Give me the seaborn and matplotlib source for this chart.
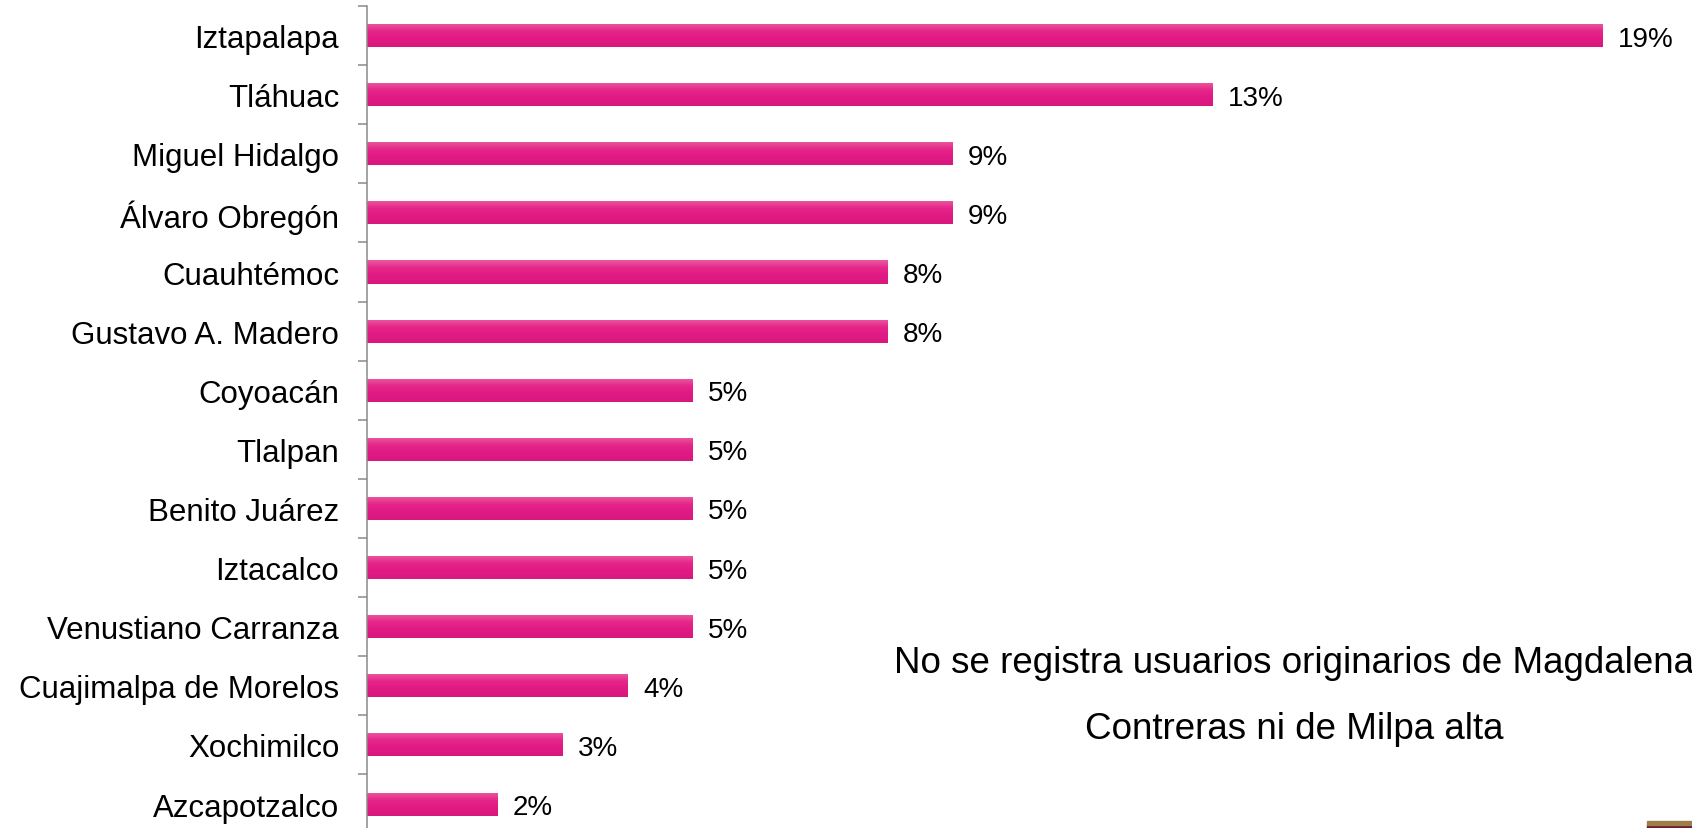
import numpy as np
import pandas as pd
import matplotlib
matplotlib.use("Agg")
import matplotlib.pyplot as plt
from matplotlib.colors import LinearSegmentedColormap
from matplotlib.ticker import FixedLocator
import seaborn as sns

alcaldias = [
    "Iztapalapa", "Tláhuac", "Miguel Hidalgo", "Álvaro Obregón", "Cuauhtémoc",
    "Gustavo A. Madero", "Coyoacán", "Tlalpan", "Benito Juárez", "Iztacalco",
    "Venustiano Carranza", "Cuajimalpa de Morelos", "Xochimilco", "Azcapotzalco",
]
porcentajes = [19, 13, 9, 9, 8, 8, 5, 5, 5, 5, 5, 4, 3, 2]

nota = ["No se registra usuarios originarios de Magdalena",
        "Contreras ni de Milpa alta"]

df = pd.DataFrame({"alcaldia": alcaldias, "pct": porcentajes})

sns.set_style("white")
plt.rcParams["font.family"] = ["Liberation Sans", "DejaVu Sans"]
plt.rcParams["text.color"] = "#000000"

W, H = 1692, 829
fig = plt.figure(figsize=(W / 100, H / 100), dpi=100)
ax = fig.add_axes([367 / W, -5.6 / H, 1300 / W, 827.6 / H])

rosa = "#e3228a"
sns.barplot(data=df, x="pct", y="alcaldia", orient="h", color=rosa,
            width=0.39, saturation=1, ax=ax)

# degradado vertical en cada barra (más claro arriba)
grad = LinearSegmentedColormap.from_list(
    "rosa", ["#ea5aa0", "#e62589", "#e01a84", "#d8187e"])
for p in ax.patches:
    x0, y0 = p.get_x(), p.get_y()
    w, h = p.get_width(), p.get_height()
    im = ax.imshow(np.linspace(0, 1, 50).reshape(-1, 1), cmap=grad,
                   aspect="auto", extent=[x0, x0 + w, y0 + h, y0],
                   origin="upper", zorder=p.get_zorder() + 0.1)
    im.set_clip_path(p)

ax.set_xlim(0, 20)
ax.set_ylim(len(alcaldias) - 0.5, -0.5)

etiquetas = ax.bar_label(ax.containers[0], labels=[f"{v}%" for v in porcentajes],
                         padding=11.5, fontsize=20, color="#000000")
for t in etiquetas:
    t.set_y(t.get_position()[1])
    t.set_va("center_baseline")

for s in ["top", "right", "bottom"]:
    ax.spines[s].set_visible(False)
ax.spines["left"].set_color("#8a8a8a")
ax.spines["left"].set_linewidth(1.1)
ax.set_xticks([])
ax.set_xlabel("")
ax.set_ylabel("")
ax.tick_params(axis="y", which="major", left=False, length=0, pad=20,
               labelsize=22.5, labelcolor="#000000")
ax.yaxis.set_minor_locator(FixedLocator(np.arange(-0.5, len(alcaldias), 1)))
ax.tick_params(axis="y", which="minor", left=True, direction="out",
               length=6.5, width=1.1, color="#8a8a8a")

# nota
fig.text(1294 / W, 1 - 673 / H, nota[0], ha="center", va="baseline",
         fontsize=26.5, color="#000000")
fig.text(1294 / W, 1 - 739 / H, nota[1], ha="center", va="baseline",
         fontsize=26.5, color="#000000")

# detalle decorativo de la diapositiva (esquina inferior derecha)
fig.patches.append(plt.Rectangle((1647 / W, 0), 45 / W, 3.5 / H,
                                 transform=fig.transFigure, color="#6e1a2c"))
fig.patches.append(plt.Rectangle((1647 / W, 3.5 / H), 45 / W, 3.5 / H,
                                 transform=fig.transFigure, color="#9c7e4a"))

fig.savefig("out.png", dpi=100)
